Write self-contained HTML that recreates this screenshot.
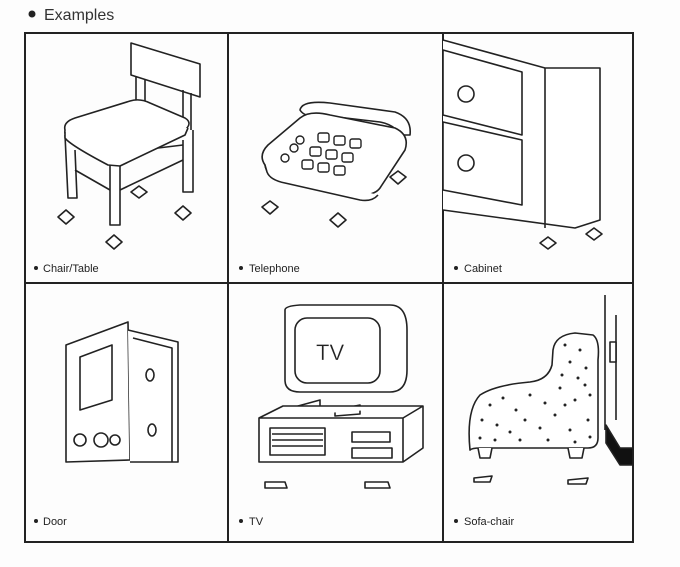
<!DOCTYPE html>
<html><head><meta charset="utf-8"><style>
html,body{margin:0;padding:0;background:#fff;}
svg{display:block;font-family:"Liberation Sans",sans-serif;}
</style></head><body>
<svg width="680" height="567" viewBox="0 0 680 567" xmlns="http://www.w3.org/2000/svg">
<rect width="680" height="567" fill="#fdfdfd"/>
<circle cx="32" cy="14" r="3.5" fill="#222"/>
<text x="44" y="20" font-size="16" fill="#333">Examples</text>
<g stroke="#222" stroke-width="2" fill="none">
<rect x="25" y="33" width="608" height="509"/>
<line x1="228" y1="33" x2="228" y2="542"/>
<line x1="443" y1="33" x2="443" y2="542"/>
<line x1="25" y1="283" x2="633" y2="283"/>
</g>
<g font-size="11" fill="#222">
<circle cx="36" cy="268" r="2" fill="#222"/><text x="43" y="272">Chair/Table</text>
<circle cx="241" cy="268" r="2" fill="#222"/><text x="249" y="272">Telephone</text>
<circle cx="456" cy="268" r="2" fill="#222"/><text x="464" y="272">Cabinet</text>
<circle cx="36" cy="521" r="2" fill="#222"/><text x="43" y="525">Door</text>
<circle cx="241" cy="521" r="2" fill="#222"/><text x="249" y="525">TV</text>
<circle cx="456" cy="521" r="2" fill="#222"/><text x="464" y="525">Sofa-chair</text>
</g>
<g stroke="#222" stroke-width="1.6" fill="#fff" stroke-linejoin="round">
<!-- chair -->
<path d="M131 43 L200 64 L200 97 L131 75 Z"/>
<path d="M136 76 L136 105 M145 79 L145 108 M183 90 L183 130 M191 93 L191 130"/>
<path d="M183 140 L183 192 L193 192 L193 130"/>
<path d="M65 135 L68 198 L77 198 L75 150"/>
<path d="M110 160 L110 225 L120 225 L120 160"/>
<path d="M75 170 L110 190 M120 190 L183 160 M100 155 L183 145"/>
<path d="M65 130 Q63 122 75 118 L130 101 Q140 98 150 103 L185 118 Q193 123 185 130 L128 158 Q118 163 108 160 L70 140 Q64 136 65 130 Z"/>
<path d="M65 132 L65 138 Q70 145 108 165 L120 166 L185 135 L188 128"/>
<path d="M58 217 L66 210 L74 217 L66 224 Z M106 242 L114 235 L122 242 L114 249 Z M175 213 L183 206 L191 213 L183 220 Z M131 192 L139 186 L147 192 L139 198 Z"/>
<!-- telephone -->
<path d="M300 110 Q302 100 330 103 L395 112 Q412 118 410 135 L400 135 Q395 125 380 122 L320 115 Q305 118 300 110 Z"/>
<path d="M265 165 Q258 155 268 145 L300 118 Q310 110 330 115 L395 128 Q410 135 405 150 L380 188 Q374 196 360 194 L280 178 Q266 175 265 165 Z"/>
<path d="M265 165 L267 172 Q270 180 285 183 L360 200 Q372 202 378 195"/>
<g stroke-width="1.4">
<rect x="318" y="133" width="11" height="9" rx="2"/><rect x="334" y="136" width="11" height="9" rx="2"/><rect x="350" y="139" width="11" height="9" rx="2"/>
<rect x="310" y="147" width="11" height="9" rx="2"/><rect x="326" y="150" width="11" height="9" rx="2"/><rect x="342" y="153" width="11" height="9" rx="2"/>
<rect x="302" y="160" width="11" height="9" rx="2"/><rect x="318" y="163" width="11" height="9" rx="2"/><rect x="334" y="166" width="11" height="9" rx="2"/>
<circle cx="300" cy="140" r="4"/><circle cx="294" cy="148" r="4"/><circle cx="285" cy="158" r="4"/>
</g>
<path d="M262 207 L270 201 L278 207 L270 214 Z M330 220 L338 213 L346 220 L338 227 Z M390 177 L398 171 L406 177 L398 184 Z"/>
<!-- cabinet -->
<path d="M443 40 L545 68 L600 68 L600 220 L575 228 L443 210"/>
<path d="M545 68 L545 228"/>
<path d="M443 50 L522 72 L522 135 L443 115 Z"/>
<path d="M443 122 L522 140 L522 205 L443 190 Z"/>
<circle cx="466" cy="94" r="8"/><circle cx="466" cy="163" r="8"/>
<path d="M540 243 L548 237 L556 243 L548 249 Z M586 234 L594 228 L602 234 L594 240 Z"/>
<!-- door -->
<path d="M66 345 L128 322 L130 460 L66 462 Z"/>
<path d="M80 357 L112 345 L112 400 L80 410 Z"/>
<path d="M128 330 L178 342 L178 462 L130 462"/>
<path d="M133 338 L172 348 L172 462"/>
<circle cx="80" cy="440" r="6"/><circle cx="101" cy="440" r="7"/><circle cx="115" cy="440" r="5"/>
<ellipse cx="150" cy="375" rx="4" ry="6"/><ellipse cx="152" cy="430" rx="4" ry="6"/>
<!-- TV -->
<path d="M285 310 Q285 306 300 305 L390 305 Q407 305 407 330 L407 370 Q407 392 390 392 L300 392 Q285 392 285 380 Z"/>
<rect x="295" y="318" width="85" height="65" rx="12"/>
<path d="M298 406 L320 400 L320 410 L298 414 Z M335 410 L360 405 L360 414 L335 416 Z"/>
<path d="M259 418 L283 406 L423 406 L423 448 L403 462 L259 462 Z M259 418 L403 418 L423 406 M403 418 L403 462"/>
<path d="M270 428 L325 428 L325 455 L270 455 Z M272 434 H323 M272 440 H323 M272 446 H323"/>
<rect x="352" y="432" width="38" height="10"/><rect x="352" y="448" width="40" height="10"/>
<path d="M265 482 L285 482 L287 488 L265 488 Z M365 482 L388 482 L390 488 L365 488 Z"/>
<!-- sofa -->
<path d="M470 450 Q466 410 480 395 Q495 385 530 382 Q548 380 552 365 L553 350 Q555 335 575 333 L593 335 Q600 340 598 360 L598 438 Q598 448 588 448 L480 448 Q472 448 470 450 Z"/>
<path d="M478 448 L480 458 L490 458 L492 448 M568 448 L570 458 L582 458 L584 448"/>
<path d="M474 478 L492 476 L490 482 L474 482 Z M568 480 L588 478 L586 484 L568 484 Z"/>
<path d="M605 295 L605 430 M616 315 L616 420" fill="none"/>
<rect x="610" y="342" width="6" height="20"/>
<path d="M606 425 L620 448 L633 448 L633 465 L620 465 L606 443 Z" fill="#111"/>
</g>
<text x="316" y="360" font-size="22" fill="#222" stroke="#fff" stroke-width="0.3">TV</text>
<g fill="#222">
<circle cx="490" cy="405" r="1.5"/><circle cx="503" cy="398" r="1.5"/><circle cx="516" cy="410" r="1.5"/><circle cx="530" cy="395" r="1.5"/><circle cx="545" cy="403" r="1.5"/><circle cx="560" cy="388" r="1.5"/><circle cx="575" cy="400" r="1.5"/><circle cx="585" cy="385" r="1.5"/>
<circle cx="482" cy="420" r="1.5"/><circle cx="497" cy="425" r="1.5"/><circle cx="510" cy="432" r="1.5"/><circle cx="525" cy="420" r="1.5"/><circle cx="540" cy="428" r="1.5"/><circle cx="555" cy="415" r="1.5"/><circle cx="570" cy="430" r="1.5"/><circle cx="588" cy="420" r="1.5"/>
<circle cx="480" cy="438" r="1.5"/><circle cx="495" cy="440" r="1.5"/><circle cx="520" cy="440" r="1.5"/><circle cx="548" cy="440" r="1.5"/><circle cx="575" cy="442" r="1.5"/><circle cx="590" cy="437" r="1.5"/>
<circle cx="565" cy="345" r="1.5"/><circle cx="580" cy="350" r="1.5"/><circle cx="570" cy="362" r="1.5"/><circle cx="586" cy="368" r="1.5"/><circle cx="562" cy="375" r="1.5"/><circle cx="578" cy="378" r="1.5"/><circle cx="590" cy="395" r="1.5"/><circle cx="565" cy="405" r="1.5"/>
</g>
</svg>
</body></html>
